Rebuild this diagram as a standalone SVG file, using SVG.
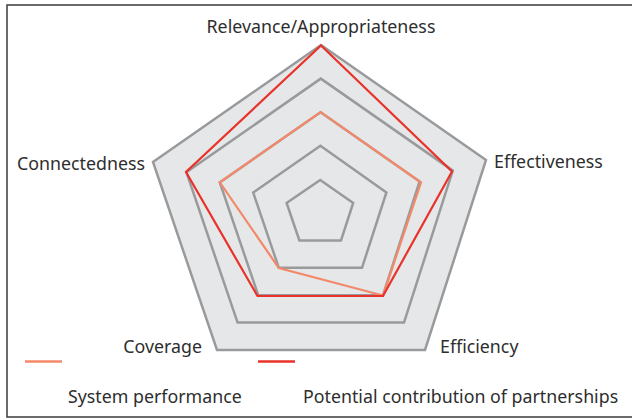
<svg xmlns="http://www.w3.org/2000/svg" width="632" height="419" viewBox="0 0 632 419">
<style>
.frame{fill:none;stroke:#3a3a3a;stroke-width:1.5}
.ring{fill:none;stroke:#999a9c;stroke-width:2.5;stroke-linejoin:miter}
.bg{fill:#e6e7e8}
.sys{fill:none;stroke:#f4896a;stroke-width:2.2;stroke-linejoin:miter}
.pot{fill:none;stroke:#e8322a;stroke-width:2.2;stroke-linejoin:miter}
.lbl{font-family:"Noto Sans","Open Sans",sans-serif;font-size:17.8px;fill:#2e2e2e}
</style>
<rect class="frame" x="7" y="5" width="640" height="412"/>
<g id="grid">
<polygon class="bg" points="321,45 486,160 425,350 217,350 153,162"/>
<polygon class="ring" points="320.2,180 353.2,203 341,240.4 299.4,240.4 286.6,203"/>
<polygon class="ring" points="320.4,145.8 386.4,192.5 362,267.8 278.8,267.8 253.2,192.6"/>
<polygon class="ring" points="320.6,112.2 419.6,181.5 383,295.2 258.2,295.2 219.8,182.4"/>
<polygon class="ring" points="320.8,78.6 452.8,170.6 404,322.6 237.6,322.6 186.4,172.2"/>
<polygon class="ring" points="321,45 486,160 425,350 217,350 153,162"/>
</g>
<g id="connectors">
<polygon id="system-performance" class="sys" points="320.6,112.2 421,182.5 383,295.5 278.8,268 219.8,182.4"/>
<polygon id="potential-contribution" class="pot" points="321,45.5 452,171.5 383,296 257.5,296 186,172"/>
</g>
<g id="label-relevance"><text class="lbl" x="321" y="33" text-anchor="middle">Relevance/Appropriateness</text></g>
<g id="label-connectedness"><text class="lbl" x="145" y="170" text-anchor="end">Connectedness</text></g>
<g id="label-effectiveness"><text class="lbl" x="494" y="168">Effectiveness</text></g>
<g id="label-coverage"><text class="lbl" x="202" y="353" text-anchor="end">Coverage</text></g>
<g id="label-efficiency"><text class="lbl" x="440" y="353">Efficiency</text></g>
<g id="legend-system">
<line x1="25" y1="361.5" x2="62" y2="361.5" stroke="#f4896a" stroke-width="2.5"/>
<text class="lbl" x="68" y="403">System performance</text>
</g>
<g id="legend-potential">
<line x1="258" y1="361.5" x2="295" y2="361.5" stroke="#e8322a" stroke-width="2.5"/>
<text class="lbl" x="303" y="403">Potential contribution of partnerships</text>
</g>
</svg>
